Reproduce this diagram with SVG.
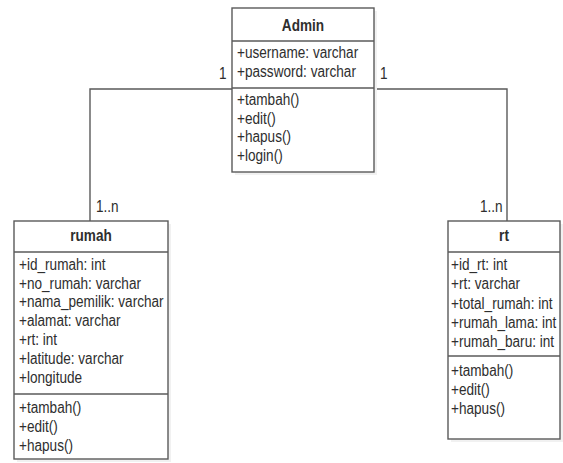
<svg xmlns="http://www.w3.org/2000/svg" width="563" height="463" viewBox="0 0 563 463">
  <style>
    .box { fill: #ffffff; stroke: #5a5a5a; stroke-width: 1.4; }
    .shadow { fill: #f1f1f1; }
    .sep { stroke: #5a5a5a; stroke-width: 1.4; }
    .conn { fill: none; stroke: #5a5a5a; stroke-width: 1.4; }
    text { font-family: "Liberation Sans", Arial, sans-serif; font-size: 13.6px; fill: #2e2e2e; }
    .title { font-weight: bold; text-anchor: middle; }
  </style>
  <rect width="563" height="463" fill="#ffffff"/>

  <!-- associations -->
  <g id="connectors">
    <polyline class="conn" points="232,89 90,89 90,221"/>
    <polyline class="conn" points="374,89 507,89 507,221"/>
    <text transform="translate(219,79) scale(1,1.15)">1</text>
    <text transform="translate(380,79) scale(1,1.15)">1</text>
    <text transform="translate(96,212) scale(1,1.15)">1..n</text>
    <text transform="translate(480,212) scale(1,1.15)">1..n</text>
  </g>

  <!-- Admin class -->
  <g id="admin">
    <rect class="shadow" x="235" y="11" width="142" height="164"/>
    <rect class="box" x="232" y="8" width="142" height="164"/>
    <line class="sep" x1="232" y1="41" x2="374" y2="41"/>
    <line class="sep" x1="232" y1="88" x2="374" y2="88"/>
    <text class="title" transform="translate(303,31) scale(1,1.15)">Admin</text>
    <text transform="translate(237,58) scale(1,1.15)">+username: varchar</text>
    <text transform="translate(237,77) scale(1,1.15)">+password: varchar</text>
    <text transform="translate(237,105) scale(1,1.15)">+tambah()</text>
    <text transform="translate(237,123.5) scale(1,1.15)">+edit()</text>
    <text transform="translate(237,142) scale(1,1.15)">+hapus()</text>
    <text transform="translate(237,161) scale(1,1.15)">+login()</text>
  </g>

  <!-- rumah class -->
  <g id="rumah">
    <rect class="shadow" x="17" y="224" width="154" height="238"/>
    <rect class="box" x="14" y="221" width="154" height="238"/>
    <line class="sep" x1="14" y1="252" x2="168" y2="252"/>
    <line class="sep" x1="14" y1="394" x2="168" y2="394"/>
    <text class="title" transform="translate(91,241) scale(1,1.15)">rumah</text>
    <text transform="translate(19,269.5) scale(1,1.15)">+id_rumah: int</text>
    <text transform="translate(19,288.5) scale(1,1.15)">+no_rumah: varchar</text>
    <text transform="translate(19,307) scale(1,1.15)">+nama_pemilik: varchar</text>
    <text transform="translate(19,326) scale(1,1.15)">+alamat: varchar</text>
    <text transform="translate(19,345) scale(1,1.15)">+rt: int</text>
    <text transform="translate(19,364) scale(1,1.15)">+latitude: varchar</text>
    <text transform="translate(19,383) scale(1,1.15)">+longitude</text>
    <text transform="translate(19,412.5) scale(1,1.15)">+tambah()</text>
    <text transform="translate(19,431.5) scale(1,1.15)">+edit()</text>
    <text transform="translate(19,450.5) scale(1,1.15)">+hapus()</text>
  </g>

  <!-- rt class -->
  <g id="rt">
    <rect class="shadow" x="451" y="224" width="112" height="218"/>
    <rect class="box" x="448" y="221" width="112" height="218"/>
    <line class="sep" x1="448" y1="252" x2="560" y2="252"/>
    <line class="sep" x1="448" y1="356" x2="560" y2="356"/>
    <text class="title" transform="translate(504,241) scale(1,1.15)">rt</text>
    <text transform="translate(451,270) scale(1,1.15)">+id_rt: int</text>
    <text transform="translate(451,289) scale(1,1.15)">+rt: varchar</text>
    <text transform="translate(451,308.5) scale(1,1.15)">+total_rumah: int</text>
    <text transform="translate(451,327.5) scale(1,1.15)">+rumah_lama: int</text>
    <text transform="translate(451,346.5) scale(1,1.15)">+rumah_baru: int</text>
    <text transform="translate(451,376) scale(1,1.15)">+tambah()</text>
    <text transform="translate(451,395) scale(1,1.15)">+edit()</text>
    <text transform="translate(451,414) scale(1,1.15)">+hapus()</text>
  </g>
</svg>
